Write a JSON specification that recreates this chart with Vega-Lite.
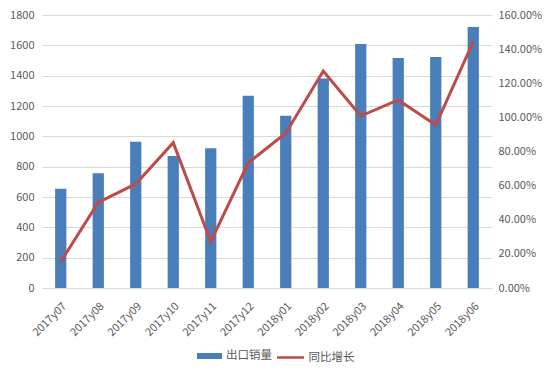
{
  "$schema": "https://vega.github.io/schema/vega-lite/v6.json",
  "width": 450,
  "height": 273,
  "autosize": {"type": "none"},
  "padding": {"left": 42, "top": 15, "right": 58, "bottom": 88},
  "background": "white",
  "config": {
    "view": {"stroke": null},
    "font": "Noto Sans CJK SC",
    "axis": {"labelColor": "#595959", "labelFontSize": 11, "labelFont": "Noto Sans CJK SC"},
    "legend": {"labelColor": "#595959", "labelFontSize": 11.5, "labelFont": "Noto Sans CJK SC", "padding": 0}
  },
  "data": {
    "values": [
      {"month": "2017y07", "sales": 655, "growth": 0.154},
      {"month": "2017y08", "sales": 756, "growth": 0.502},
      {"month": "2017y09", "sales": 965, "growth": 0.61},
      {"month": "2017y10", "sales": 870, "growth": 0.852},
      {"month": "2017y11", "sales": 921, "growth": 0.271},
      {"month": "2017y12", "sales": 1268, "growth": 0.734},
      {"month": "2018y01", "sales": 1136, "growth": 0.907},
      {"month": "2018y02", "sales": 1382, "growth": 1.272},
      {"month": "2018y03", "sales": 1609, "growth": 1.008},
      {"month": "2018y04", "sales": 1516, "growth": 1.102},
      {"month": "2018y05", "sales": 1523, "growth": 0.955},
      {"month": "2018y06", "sales": 1721, "growth": 1.444}
    ]
  },
  "encoding": {
    "x": {
      "field": "month",
      "type": "ordinal",
      "scale": {"paddingInner": 0.7, "paddingOuter": 0.35},
      "axis": {
        "title": null,
        "labelAngle": -45,
        "ticks": false,
        "domainColor": "#D9D9D9",
        "labelPadding": 12
      }
    }
  },
  "layer": [
    {
      "mark": {"type": "bar", "color": "#4A7EBB"},
      "transform": [{"calculate": "'出口销量'", "as": "s1"}],
      "encoding": {
        "y": {
          "field": "sales",
          "type": "quantitative",
          "scale": {"domain": [0, 1800]},
          "axis": {
            "title": null,
            "format": "d",
            "values": [0, 200, 400, 600, 800, 1000, 1200, 1400, 1600, 1800],
            "domain": false,
            "ticks": false,
            "gridColor": "#D9D9D9",
            "labelPadding": 8
          }
        },
        "fill": {
          "field": "s1",
          "type": "nominal",
          "scale": {"range": ["#4A7EBB"]},
          "legend": {
            "title": null,
            "orient": "none",
            "legendX": 155,
            "legendY": 328.5,
            "labelOffset": 4,
            "symbolType": "M-1,-0.24H1V0.24H-1Z",
            "symbolSize": 625,
            "symbolStrokeWidth": 0
          }
        }
      }
    },
    {
      "mark": {"type": "line", "color": "#BE4B48", "strokeWidth": 3},
      "transform": [{"calculate": "'同比增长'", "as": "s2"}],
      "encoding": {
        "y": {
          "field": "growth",
          "type": "quantitative",
          "scale": {"domain": [0, 1.6]},
          "axis": {
            "title": null,
            "orient": "right",
            "format": ".2%",
            "values": [0, 0.2, 0.4, 0.6, 0.8, 1.0, 1.2, 1.4, 1.6],
            "domain": false,
            "ticks": false,
            "grid": false,
            "labelPadding": 6
          }
        },
        "stroke": {
          "field": "s2",
          "type": "nominal",
          "scale": {"range": ["#BE4B48"]},
          "legend": {
            "title": null,
            "orient": "none",
            "legendX": 233.5,
            "legendY": 327.5,
            "labelOffset": 3,
            "symbolType": "stroke",
            "symbolSize": 729,
            "symbolStrokeWidth": 2.5
          }
        }
      }
    }
  ],
  "resolve": {"scale": {"y": "independent"}}
}
